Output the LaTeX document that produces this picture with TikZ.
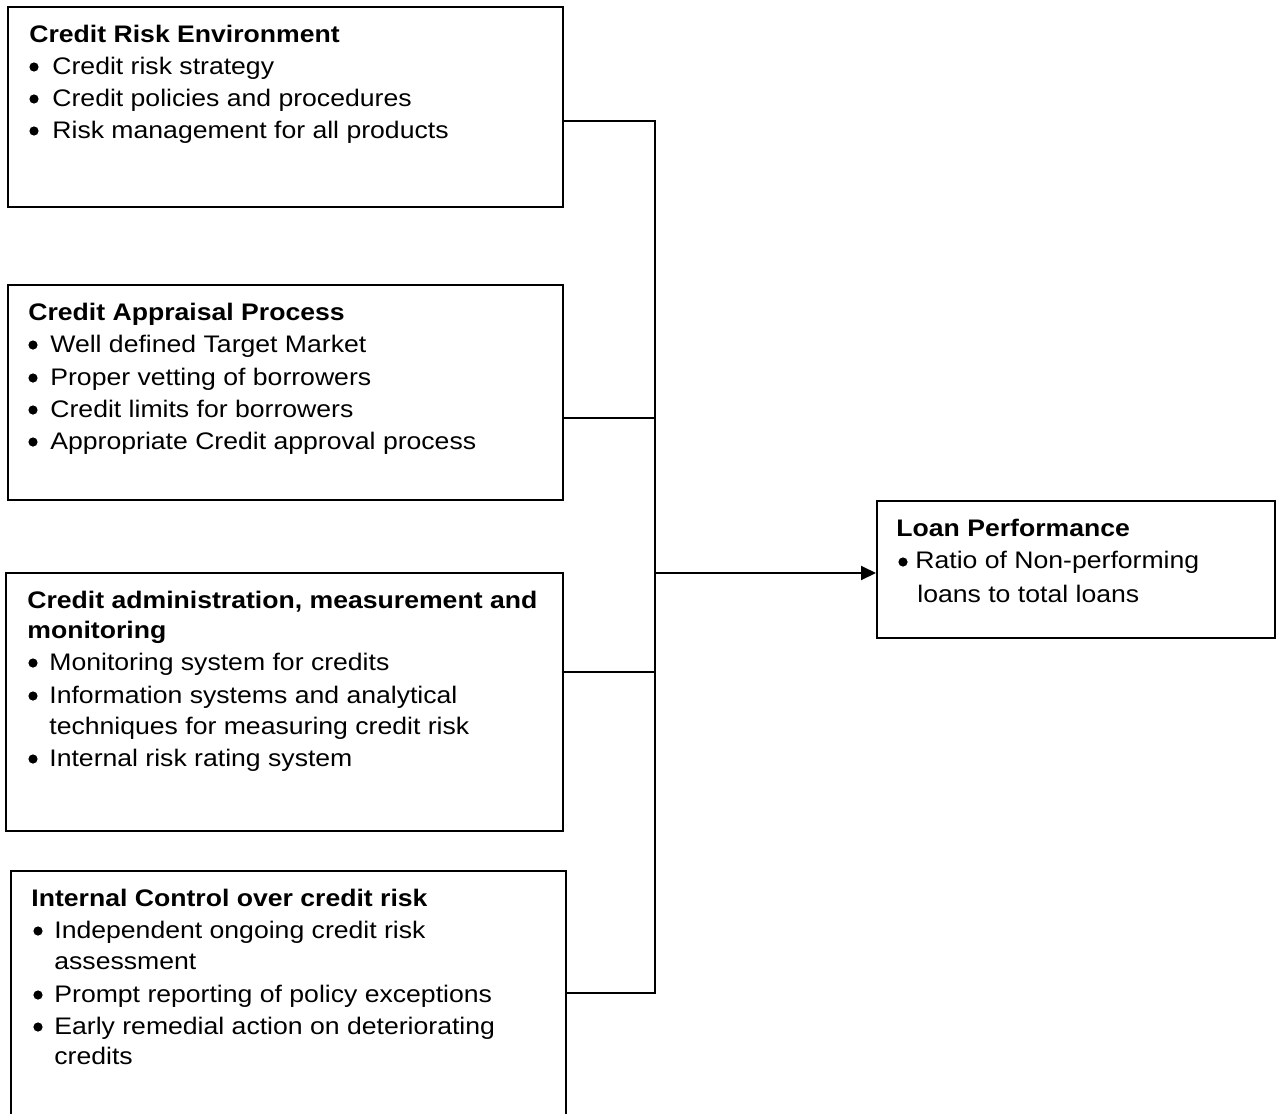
\documentclass[tikz,border=0pt]{standalone}
\usepackage{fontspec}
\setmainfont{Liberation Sans}
\usetikzlibrary{arrows.meta,fit}
\newcommand{\vsq}[1]{\scalebox{1}[0.9]{#1}}
\begin{document}
\begin{tikzpicture}[x=0.5pt,y=-0.5pt,
  box/.style={draw, line width=1pt, inner sep=0pt},
  txt/.style={anchor=base west, inner sep=0pt, font=\fontsize{13.3}{16}\selectfont},
  hd/.style={anchor=base west, inner sep=0pt, font=\fontsize{13.3}{16}\selectfont\bfseries},
  dot/.style={circle, fill=black, draw=none, inner sep=0pt, minimum size=4.6pt},
  conn/.style={line width=1pt},
  arr/.style={line width=1pt, -{Triangle[length=7.5pt,width=7pt]}}]
\useasboundingbox (0,0) rectangle (1276,1114);
\clip (0,0) rectangle (1276,1114);

% boxes
\node[box, fit={(8,7) (563,207)}] (b1) {};
\node[box, fit={(8,285) (563,500)}] (b2) {};
\node[box, fit={(6,573) (563,831)}] (b3) {};
\node[box, fit={(11,871) (566,1130)}] (b4) {};
\node[box, fit={(877,501) (1275,638)}] (b5) {};

% box 1
\node[hd] (b1t) at (29,42) {\vsq{Credit Risk Environment}};
\node[dot] (b1d1) at (34,67) {};
\node[txt] (b1l1) at (52,74) {\vsq{Credit risk strategy}};
\node[dot] (b1d2) at (34,99) {};
\node[txt] (b1l2) at (52,106) {\vsq{Credit policies and procedures}};
\node[dot] (b1d3) at (34,131) {};
\node[txt] (b1l3) at (52,138) {\vsq{Risk management for all products}};

% box 2
\node[hd] (b2t) at (28,320) {\vsq{Credit Appraisal Process}};
\node[dot] (b2d1) at (33,345) {};
\node[txt] (b2l1) at (50,352) {\vsq{Well defined Target Market}};
\node[dot] (b2d2) at (33,378) {};
\node[txt] (b2l2) at (50,385) {\vsq{Proper vetting of borrowers}};
\node[dot] (b2d3) at (33,410) {};
\node[txt] (b2l3) at (50,417) {\vsq{Credit limits for borrowers}};
\node[dot] (b2d4) at (33,442) {};
\node[txt] (b2l4) at (50,449) {\vsq{Appropriate Credit approval process}};

% box 3
\node[hd] (b3t1) at (27,608) {\vsq{Credit administration, measurement and}};
\node[hd] (b3t2) at (27,638) {\vsq{monitoring}};
\node[dot] (b3d1) at (33,663) {};
\node[txt] (b3l1) at (49,670) {\vsq{Monitoring system for credits}};
\node[dot] (b3d2) at (33,696) {};
\node[txt] (b3l2) at (49,703) {\vsq{Information systems and analytical}};
\node[txt] (b3l3) at (49,734) {\vsq{techniques for measuring credit risk}};
\node[dot] (b3d4) at (33,759) {};
\node[txt] (b3l4) at (49,766) {\vsq{Internal risk rating system}};

% box 4
\node[hd] (b4t) at (31,906) {\vsq{Internal Control over credit risk}};
\node[dot] (b4d1) at (38,931) {};
\node[txt] (b4l1) at (54,938) {\vsq{Independent ongoing credit risk}};
\node[txt] (b4l2) at (54,969) {\vsq{assessment}};
\node[dot] (b4d3) at (38,995) {};
\node[txt] (b4l3) at (54,1002) {\vsq{Prompt reporting of policy exceptions}};
\node[dot] (b4d4) at (38,1027) {};
\node[txt] (b4l4) at (54,1034) {\vsq{Early remedial action on deteriorating}};
\node[txt] (b4l5) at (54,1064) {\vsq{credits}};

% box 5
\node[hd] (b5t) at (896,536) {\vsq{Loan Performance}};
\node[dot] (b5d1) at (903,562) {};
\node[txt] (b5l1) at (915,568) {\vsq{Ratio of Non-performing}};
\node[txt] (b5l2) at (917,602) {\vsq{loans to total loans}};

% connectors
\coordinate (j1) at (655,121);
\coordinate (j2) at (655,418);
\coordinate (j3) at (655,672);
\coordinate (j4) at (655,993);
\coordinate (jm) at (655,573);
\draw[conn] (b1.east |- j1) -- (j1) -- (j4) -- (b4.east |- j4);
\draw[conn] (b2.east |- j2) -- (j2);
\draw[conn] (b3.east |- j3) -- (j3);
\draw[arr] (jm) -- (b5.west |- jm);
\end{tikzpicture}
\end{document}
